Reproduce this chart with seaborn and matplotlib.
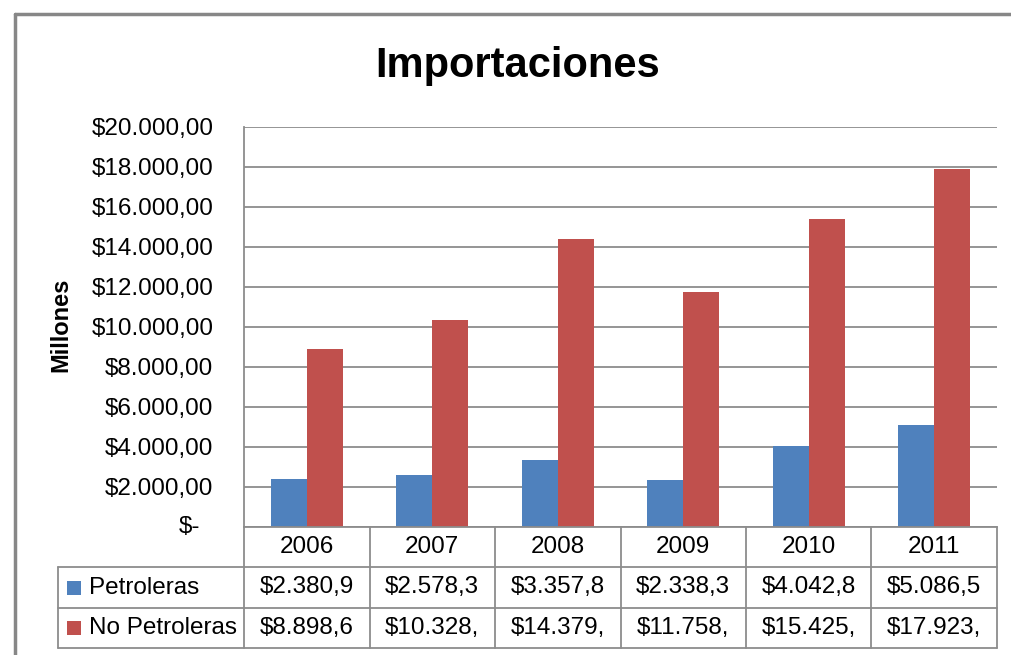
import matplotlib
matplotlib.use('Agg')
import matplotlib.pyplot as plt
from matplotlib.lines import Line2D
from matplotlib.patches import Rectangle
import seaborn as sns
import pandas as pd

# datos
anios = ['2006', '2007', '2008', '2009', '2010', '2011']
series = ['Petroleras', 'No Petroleras']
petroleras = [2380.9, 2578.3, 3357.8, 2338.3, 4042.8, 5086.5]
no_petroleras = [8898.6, 10328.0, 14379.0, 11758.0, 15425.0, 17923.0]
y_ticks = list(range(0, 20001, 2000))

AZUL = '#4F81BD'
ROJO = '#C0504D'
GRIS = '#8C8C8C'


def formato(v, ancho=8):
    # formato contable con separadores en español, recortado como en la celda
    s = f"{v:,.1f}".replace(',', 'X').replace('.', ',').replace('X', '.')
    return ('$' + s)[:ancho]


def formato_eje(v):
    if v == 0:
        return ''
    s = f"{v:,.2f}".replace(',', 'X').replace('.', ',').replace('X', '.')
    return '$' + s


df = pd.DataFrame({
    'anio': anios * 2,
    'serie': [series[0]] * len(anios) + [series[1]] * len(anios),
    'valor': petroleras + no_petroleras,
})

sns.set_theme(style='white')
plt.rcParams['font.family'] = ['Liberation Sans', 'DejaVu Sans']
plt.rcParams['text.color'] = 'black'
plt.rcParams['axes.labelcolor'] = 'black'
plt.rcParams['ytick.color'] = 'black'
plt.rcParams['xtick.color'] = 'black'

fig = plt.figure(figsize=(10.11, 6.55), dpi=100)
ax = fig.add_axes([244 / 1011, 1 - 527 / 655, 753 / 1011, 400 / 655])

sns.barplot(data=df, x='anio', y='valor', hue='serie', order=anios,
            hue_order=series, palette=[AZUL, ROJO], width=0.574,
            saturation=1, linewidth=0, legend=False, ax=ax)

ax.set_ylim(0, 20000)
ax.set_yticks(y_ticks)
ax.set_yticklabels([formato_eje(v) for v in y_ticks], fontsize=17.5)
ax.yaxis.grid(True, color=GRIS, linewidth=1.3)
ax.set_axisbelow(True)
ax.tick_params(axis='y', length=0, pad=22)
ax.tick_params(axis='x', bottom=False, labelbottom=False)
ax.set_xlabel('')
ax.set_ylabel('Millones', fontsize=17, fontweight='bold')
ax.yaxis.set_label_coords(-0.228, 0.505)
for lado in ['top', 'right']:
    ax.spines[lado].set_visible(False)
for lado in ['left', 'bottom']:
    ax.spines[lado].set_color(GRIS)
    ax.spines[lado].set_linewidth(1.3)

# etiqueta del cero, formato contable
ax.text(-0.058, 0, '$-', transform=ax.get_yaxis_transform(), ha='right',
        va='center', fontsize=17.5)

# titulo
fig.text(518 / 1011, 1 - 66 / 655, 'Importaciones', ha='center', va='center',
         fontsize=30, fontweight='bold')

# tabla de datos
xt = ax.get_xaxis_transform()
h_enc, h1, h2 = -0.1, -0.2025, -0.3025
izq = -0.247
n = len(anios)
for i in range(n + 1):
    ax.add_line(Line2D([i - 0.5, i - 0.5], [0, h2], transform=xt,
                       color=GRIS, lw=1.3, clip_on=False))
for yy in [h_enc, h1, h2]:
    ax.add_line(Line2D([izq, 1], [yy, yy], transform=ax.transAxes,
                       color=GRIS, lw=1.3, clip_on=False))
ax.add_line(Line2D([izq, izq], [h_enc, h2], transform=ax.transAxes,
                   color=GRIS, lw=1.3, clip_on=False))

for i, a in enumerate(anios):
    ax.text(i, h_enc / 2, a, transform=xt, ha='center', va='center',
            fontsize=17.5, clip_on=False)

filas = [(series[0], petroleras, AZUL, (h_enc + h1) / 2),
         (series[1], no_petroleras, ROJO, (h1 + h2) / 2)]
for nombre, vals, color, yc in filas:
    ax.add_patch(Rectangle((-0.2351, yc - 0.0175), 0.0186, 0.035,
                           transform=ax.transAxes, facecolor=color,
                           edgecolor='none', clip_on=False))
    ax.text(-0.2058, yc, nombre, transform=ax.transAxes, ha='left',
            va='center', fontsize=17.5, clip_on=False)
    for i, v in enumerate(vals):
        ax.text(i, yc, formato(v), transform=xt, ha='center', va='center',
                fontsize=17.5, clip_on=False)

# marco exterior del grafico
fig.add_artist(Line2D([15 / 1011, 15 / 1011], [0, 1 - 14 / 655],
                      transform=fig.transFigure, color='#878787', lw=2.5))
fig.add_artist(Line2D([15 / 1011, 1], [1 - 14 / 655, 1 - 14 / 655],
                      transform=fig.transFigure, color='#878787', lw=2.5))

fig.savefig('out.png', dpi=100)
